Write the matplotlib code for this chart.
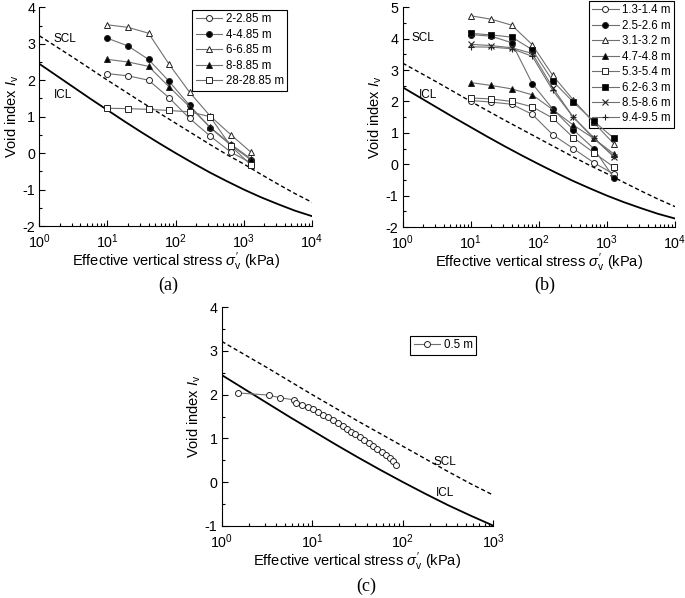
import matplotlib
matplotlib.use("Agg")
import matplotlib.pyplot as plt
from matplotlib.ticker import LogLocator, MultipleLocator, NullFormatter

plt.rcParams['font.family'] = ['Liberation Sans', 'DejaVu Sans']
plt.rcParams['mathtext.fontset'] = 'custom'
plt.rcParams['mathtext.rm'] = 'Liberation Sans'
plt.rcParams['mathtext.it'] = 'Liberation Sans:italic'
plt.rcParams['axes.unicode_minus'] = False

# ---------------- data ----------------
# reference lines at quarter decades of stress
line_stress = [1.0, 1.778, 3.162, 5.623, 10.0, 17.78, 31.62, 56.23, 100.0,
               177.8, 316.2, 562.3, 1000.0, 1778.0, 3162.0, 5623.0, 10000.0]
icl_values = [2.45, 2.13, 1.81, 1.49, 1.18, 0.87, 0.57, 0.28, 0.0,
              -0.27, -0.53, -0.77, -1.0, -1.21, -1.40, -1.58, -1.73]
scl_values = [3.22, 2.92, 2.62, 2.31, 2.0, 1.70, 1.40, 1.11, 0.82,
              0.53, 0.24, -0.04, -0.30, -0.58, -0.85, -1.11, -1.35]

# panel (a)
stress_a = [10, 20, 40, 80, 160, 320, 640, 1280]
labels_a = ['2-2.85 m', '4-4.85 m', '6-6.85 m', '8-8.85 m', '28-28.85 m']
iv_a = [
    [2.18, 2.12, 2.00, 1.52, 0.95, 0.47, 0.03, -0.27],
    [3.15, 2.94, 2.57, 1.97, 1.31, 0.70, 0.22, -0.19],
    [3.52, 3.45, 3.29, 2.44, 1.67, 1.02, 0.51, 0.02],
    [2.57, 2.50, 2.38, 1.82, 1.27, 0.71, 0.25, -0.16],
    [1.23, 1.22, 1.20, 1.17, 1.13, 1.00, 0.20, -0.33],
]
markers_a = ['o', 'o', '^', '^', 's']
fills_a = ['white', 'black', 'white', 'black', 'white']

# panel (b)
stress_b = [10, 20, 40, 80, 160, 320, 640, 1280]
labels_b = ['1.3-1.4 m', '2.5-2.6 m', '3.1-3.2 m', '4.7-4.8 m',
            '5.3-5.4 m', '6.2-6.3 m', '8.5-8.6 m', '9.4-9.5 m']
iv_b = [
    [2.03, 1.98, 1.91, 1.59, 0.94, 0.50, 0.05, -0.32],
    [4.13, 4.08, 3.87, 2.57, 1.76, 1.10, 0.50, -0.45],
    [4.73, 4.62, 4.43, 3.81, 2.83, 2.05, 1.33, 0.64],
    [2.60, 2.51, 2.40, 2.21, 1.74, 1.25, 0.82, 0.32],
    [2.11, 2.08, 2.00, 1.83, 1.47, 0.85, 0.37, -0.10],
    [4.17, 4.12, 4.05, 3.65, 2.65, 1.98, 1.37, 0.82],
    [3.82, 3.78, 3.71, 3.53, 2.44, 1.50, 0.85, 0.22],
    [3.74, 3.73, 3.68, 3.44, 2.35, 1.50, 0.82, 0.25],
]
markers_b = ['o', 'o', '^', '^', 's', 's', 'x', '+']
fills_b = ['white', 'black', 'white', 'black', 'white', 'black', 'none', 'none']

# panel (c)
stress_c = [1.5, 3.3, 4.4, 6.3, 6.7, 7.8, 8.9, 10.2, 11.6, 13.2, 15.0, 17.0,
            19.3, 21.6, 24.0, 26.8, 30.0, 33.5, 37.5, 42.0, 47.0, 52.5, 58.5,
            65.0, 72.0, 78.5, 85.0]
iv_c = [2.04, 1.99, 1.93, 1.88, 1.82, 1.77, 1.72, 1.67, 1.60, 1.54, 1.48, 1.42,
        1.36, 1.29, 1.22, 1.15, 1.09, 1.02, 0.96, 0.89, 0.82, 0.76, 0.69,
        0.62, 0.55, 0.48, 0.40]
label_c = '0.5 m'

# ---------------- figure ----------------
W, H = 685, 598
fig = plt.figure(figsize=(W / 100, H / 100), dpi=100)


def ax_at(l, t, r, b):
    return fig.add_axes([l / W, 1 - b / H, (r - l) / W, (b - t) / H])


ax_a = ax_at(39.3, 7.3, 312, 226)
ax_b = ax_at(402.7, 7.3, 675, 227)
ax_c = ax_at(221.7, 307.3, 493.3, 525.7)

line_col = '#707070'
edge_col = '#222222'


def style(ax, xmax, ymin, ymax):
    ax.set_xscale('log')
    ax.set_xlim(1, xmax)
    ax.set_ylim(ymin, ymax)
    ax.spines['top'].set_visible(False)
    ax.spines['right'].set_visible(False)
    ax.xaxis.set_major_locator(LogLocator(base=10, numticks=10))
    ax.xaxis.set_minor_locator(LogLocator(base=10, subs=range(2, 10), numticks=20))
    ax.xaxis.set_minor_formatter(NullFormatter())
    ax.yaxis.set_major_locator(MultipleLocator(1))
    ax.yaxis.set_minor_locator(MultipleLocator(0.5))
    ax.tick_params(which='both', direction='in', labelsize=10.3, width=0.8)
    ax.tick_params(which='major', length=4)
    ax.tick_params(which='minor', length=2.2)
    ax.tick_params(axis='x', pad=4.5)
    ax.tick_params(axis='y', pad=3)
    ax.set_xlabel(r"Effective vertical stress $\sigma_{\mathrm{v}}^{\prime}$ (kPa)",
                  fontsize=10.5, labelpad=0)
    ax.set_ylabel(r"Void index $I_{\mathrm{v}}$", fontsize=10.5, labelpad=1)


def ref_lines(ax, xmax):
    xs = [s for s in line_stress if s <= xmax]
    n = len(xs)
    ax.plot(xs, icl_values[:n], color='black', lw=1.3, zorder=1)
    ax.plot(xs, scl_values[:n], color='black', lw=1.0, ls=(0, (3, 2)), zorder=1)


def series(ax, x, y, m, fc, lab):
    if m in ('x', '+'):
        ax.plot(x, y, color=line_col, lw=0.8, marker=m, ms=5, mec=edge_col,
                mew=0.8, label=lab, zorder=3)
    else:
        ax.plot(x, y, color=line_col, lw=0.8, marker=m, ms=4.3, mfc=fc,
                mec=edge_col, mew=0.7, label=lab, zorder=3)


def legend(ax, ur):
    lg = ax.legend(loc='upper right', bbox_to_anchor=(ur[0] / W, 1 - ur[1] / H),
                   bbox_transform=fig.transFigure, fontsize=8.3, frameon=True,
                   fancybox=False, edgecolor='black', handlelength=2.3,
                   handletextpad=0.3, labelspacing=0.3, borderpad=0.3,
                   borderaxespad=0, framealpha=1)
    lg.get_frame().set_linewidth(0.8)
    lg.set_zorder(2.5)


# (a)
style(ax_a, 1e4, -2, 4)
ref_lines(ax_a, 1e4)
for y, m, fc, lab in zip(iv_a, markers_a, fills_a, labels_a):
    series(ax_a, stress_a, y, m, fc, lab)
legend(ax_a, (287.3, 10))
ax_a.text(2.38, 3.13, 'SCL', fontsize=8.5, ha='center', va='center')
ax_a.text(2.2, 1.59, 'ICL', fontsize=8.5, ha='center', va='center')

# (b)
style(ax_b, 1e4, -2, 5)
ref_lines(ax_b, 1e4)
for y, m, fc, lab in zip(iv_b, markers_b, fills_b, labels_b):
    series(ax_b, stress_b, y, m, fc, lab)
legend(ax_b, (674.3, 0.8))
ax_b.text(2.0, 4.02, 'SCL', fontsize=8.5, ha='center', va='center')
ax_b.text(2.35, 2.19, 'ICL', fontsize=8.5, ha='center', va='center')

# (c)
style(ax_c, 1e3, -1, 4)
ref_lines(ax_c, 1e3)
series(ax_c, stress_c, iv_c, 'o', 'white', label_c)
legend(ax_c, (476, 336))
ax_c.text(293, 0.46, 'SCL', fontsize=8.5, ha='center', va='center')
ax_c.text(293, -0.25, 'ICL', fontsize=8.5, ha='center', va='center')

serif = ['Liberation Serif', 'DejaVu Serif']
fig.text(168 / W, 1 - 285 / H, '(a)', fontsize=13, family=serif, ha='center', va='center')
fig.text(545 / W, 1 - 285 / H, '(b)', fontsize=13, family=serif, ha='center', va='center')
fig.text(366 / W, 1 - 586 / H, '(c)', fontsize=13, family=serif, ha='center', va='center')

fig.savefig('out.png', dpi=100)
